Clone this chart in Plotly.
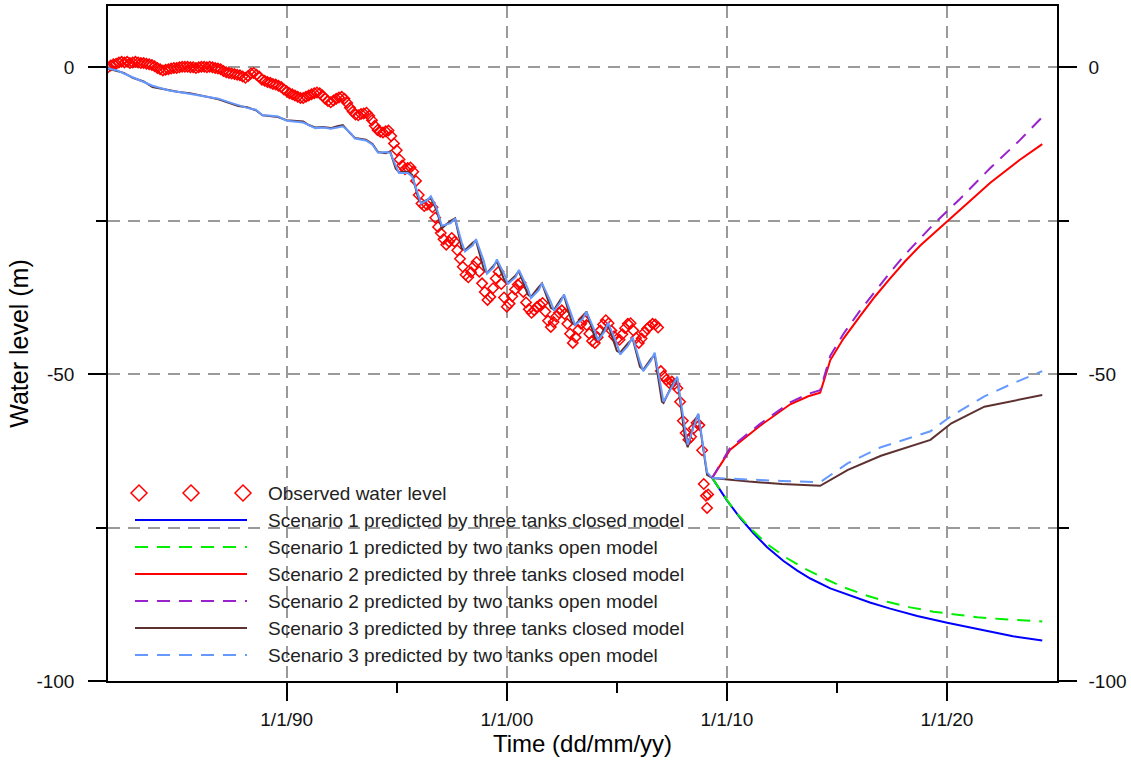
import plotly.graph_objects as go

# ---- observed groundwater level (decimal year, m) ----
obs_year = [
    1981.875,
    1982.0, 1982.125, 1982.25, 1982.375, 1982.5, 1982.625, 1982.75, 1982.875,
    1983.0, 1983.125, 1983.25, 1983.375, 1983.5, 1983.625, 1983.75, 1983.875,
    1984.0, 1984.125, 1984.25, 1984.375, 1984.5, 1984.625, 1984.75, 1984.875,
    1985.0, 1985.125, 1985.25, 1985.375, 1985.5, 1985.625, 1985.75, 1985.875,
    1986.0, 1986.125, 1986.25, 1986.375, 1986.5, 1986.625, 1986.75, 1986.875,
    1987.0, 1987.125, 1987.25, 1987.375, 1987.5, 1987.625, 1987.75, 1987.875,
    1988.0, 1988.125, 1988.25, 1988.375, 1988.5, 1988.625, 1988.75, 1988.875,
    1989.0, 1989.125, 1989.25, 1989.375, 1989.5, 1989.625, 1989.75, 1989.875,
    1990.0, 1990.125, 1990.25, 1990.375, 1990.5, 1990.625, 1990.75, 1990.875,
    1991.0, 1991.125, 1991.25, 1991.375, 1991.5, 1991.625, 1991.75, 1991.875,
    1992.0, 1992.125, 1992.25, 1992.375, 1992.5, 1992.625, 1992.75, 1992.875,
    1993.0, 1993.125, 1993.25, 1993.375, 1993.5, 1993.625, 1993.75, 1993.875,
    1994.0, 1994.125, 1994.25, 1994.375, 1994.5, 1994.625, 1994.75, 1994.875,
    1995.0, 1995.125, 1995.25, 1995.375, 1995.5, 1995.625, 1995.75, 1995.875,
    1996.0, 1996.125, 1996.25, 1996.375, 1996.5, 1996.625, 1996.75, 1996.875,
    1997.0, 1997.125, 1997.25, 1997.375, 1997.5, 1997.625, 1997.75, 1997.875,
    1998.0, 1998.125, 1998.25, 1998.375, 1998.5, 1998.625, 1998.75, 1998.875,
    1999.0, 1999.125, 1999.25, 1999.375, 1999.5, 1999.625, 1999.75, 1999.875,
    2000.0, 2000.125, 2000.25, 2000.375, 2000.5, 2000.625, 2000.75, 2000.875,
    2001.0, 2001.125, 2001.25, 2001.375, 2001.5, 2001.625, 2001.75, 2001.875,
    2002.0, 2002.125, 2002.25, 2002.375, 2002.5, 2002.625, 2002.75, 2002.875,
    2003.0, 2003.125, 2003.25, 2003.375, 2003.5, 2003.625, 2003.75, 2003.875,
    2004.0, 2004.125, 2004.25, 2004.375, 2004.5, 2004.625, 2004.75, 2004.875,
    2005.0, 2005.125, 2005.25, 2005.375, 2005.5, 2005.625, 2005.75, 2005.875,
    2006.0, 2006.125, 2006.25, 2006.375, 2006.5, 2006.625, 2006.75, 2006.875,
    2007.0, 2007.125, 2007.25, 2007.375, 2007.5, 2007.625, 2007.75, 2007.875,
    2008.0, 2008.125, 2008.25, 2008.375, 2008.5, 2008.625, 2008.75, 2008.875,
    2008.95, 2009.05, 2009.1, 2009.15,
]
obs_level = [
    0.0,
    0.3, 0.5, 0.6, 0.8, 0.9, 0.8, 0.9, 0.7,
    0.8, 0.9, 0.8, 0.7, 0.7, 0.6, 0.5, 0.4,
    0.2, -0.1, -0.3, -0.5, -0.4, -0.3, -0.2, -0.1,
    -0.1, 0.0, 0.1, 0.1, 0.1, 0.0, 0.0, -0.1,
    0.0, 0.1, 0.1, 0.0, 0.1, 0.0, -0.1, -0.2,
    -0.3, -0.6, -0.8, -0.9, -1.0, -1.1, -1.2, -1.3,
    -1.5, -1.7, -1.4, -1.0, -0.9, -1.2, -1.5, -2.0,
    -2.2, -2.4, -2.5, -2.7, -2.8, -3.0, -3.2, -3.6,
    -3.9, -4.2, -4.4, -4.6, -4.8, -5.0, -5.0, -4.8,
    -4.6, -4.4, -4.2, -4.1, -4.2, -4.6, -5.1, -5.5,
    -5.7, -5.4, -5.1, -4.9, -4.8, -5.1, -5.8, -6.6,
    -7.2, -7.7, -7.8, -7.6, -7.5, -7.4, -7.9, -8.6,
    -9.5, -10.2, -10.5, -10.6, -10.4, -10.3, -11.2, -12.4,
    -13.5, -15.0, -16.0, -16.6, -16.4, -16.3, -17.0, -18.5,
    -20.8, -22.2, -22.6, -22.4, -22.1, -22.8, -24.5, -26.0,
    -27.0, -28.0, -28.9, -28.4, -27.8, -28.4, -29.8, -31.2,
    -32.5, -33.8, -34.2, -33.4, -32.4, -31.7, -33.3, -35.2,
    -36.6, -37.9, -37.4, -36.0, -34.4, -33.3, -35.3, -37.5,
    -39.0, -38.5, -37.3, -36.2, -35.4, -35.1, -36.6, -38.3,
    -39.4, -40.0, -39.6, -39.0, -38.7, -38.4, -39.8, -41.3,
    -42.3, -41.5, -40.6, -40.0, -39.6, -40.2, -41.8, -43.4,
    -44.9, -44.0, -42.8, -41.8, -41.1, -42.0, -43.4, -44.6,
    -44.9, -44.0, -42.9, -41.9, -41.2, -41.7, -42.9, -43.8,
    -44.3, -44.4, -43.5, -42.5, -41.8, -41.7, -42.9, -44.1,
    -44.9, -44.2, -43.2, -42.6, -42.2, -41.8, -41.9, -42.4,
    -49.5, -50.3, -50.9, -51.4, -51.2, -51.6, -52.3, -54.5,
    -57.6, -59.6, -60.7, -60.2, -58.8, -57.9, -58.3, -62.4,
    -67.9, -69.8, -71.8, -69.6,
]

# ---- simulated history (calibration period) ----
hist_year = [
    1981.88, 1982.3, 1982.6, 1983.0, 1983.5, 1983.9, 1984.3, 1984.7, 1985.1,
    1985.6, 1986.0, 1986.5, 1986.9, 1987.4, 1987.8, 1988.2, 1988.6, 1988.9,
    1989.3, 1989.6, 1990.0, 1990.4, 1990.75, 1991.0, 1991.3, 1991.65, 1992.0,
    1992.3, 1992.55, 1992.9, 1993.1, 1993.6, 1993.9, 1994.15, 1994.5, 1994.7,
    1994.95, 1995.1, 1995.5, 1995.7, 1995.95, 1996.1, 1996.4, 1996.55, 1996.8,
    1997.05, 1997.45, 1997.65, 1997.95, 1998.1, 1998.45, 1998.6, 1998.95,
    1999.1, 1999.4, 1999.55, 1999.9, 2000.05, 2000.4, 2000.55, 2000.95,
    2001.1, 2001.45, 2001.6, 2002.0, 2002.15, 2002.45, 2002.6, 2002.95,
    2003.1, 2003.45, 2003.62, 2004.0, 2004.15, 2004.45, 2004.6, 2005.0,
    2005.15, 2005.5, 2005.72, 2006.05, 2006.2, 2006.55, 2006.72, 2007.05,
    2007.12, 2007.55, 2007.74, 2008.1, 2008.22, 2008.55, 2008.7, 2009.1,
    2009.33,
]
hist_closed = [
    -0.2, -0.6, -0.9, -1.7, -2.3, -3.2, -3.5, -3.7, -4.0,
    -4.2, -4.5, -4.8, -5.2, -5.8, -6.3, -6.5, -7.0, -7.8,
    -8.0, -8.1, -8.6, -8.7, -8.8, -9.4, -9.8, -9.7, -9.9,
    -9.6, -9.4, -10.8, -11.5, -11.8, -12.5, -13.8, -14.0, -13.7,
    -16.5, -17.1, -17.0, -17.5, -21.0, -22.1, -21.5, -21.3, -23.2,
    -26.2, -25.0, -24.6, -29.5, -29.8, -28.6, -28.2, -32.8,
    -33.5, -32.3, -31.6, -34.8, -35.1, -33.9, -33.2, -37.0,
    -37.4, -35.8, -35.2, -39.2, -39.5, -37.8, -37.2, -41.5,
    -42.0, -40.6, -39.8, -44.0, -44.4, -42.5, -41.9, -46.2,
    -46.5, -45.0, -44.2, -48.8, -49.3, -47.5, -46.9, -54.5,
    -54.7, -51.5, -50.6, -60.5, -61.9, -57.5, -56.6, -66.4,
    -66.9,
]
hist_open = [
    -0.2, -0.5, -1.0, -1.6, -2.3, -3.0, -3.4, -3.8, -4.0,
    -4.3, -4.5, -4.9, -5.1, -5.7, -6.2, -6.6, -6.9, -7.8,
    -7.9, -8.0, -8.7, -8.9, -9.0, -9.4, -9.9, -9.8, -10.0,
    -9.8, -9.6, -10.7, -11.6, -11.9, -12.6, -13.9, -13.8, -13.9,
    -16.0, -17.2, -17.2, -17.8, -20.5, -22.2, -21.6, -21.0, -22.8,
    -25.8, -25.4, -24.6, -28.5, -30.0, -29.0, -28.0, -31.5,
    -33.6, -32.6, -31.3, -33.8, -35.3, -34.2, -33.0, -36.0,
    -37.6, -36.3, -35.2, -38.2, -39.7, -38.2, -37.0, -40.4,
    -42.0, -41.0, -39.8, -43.0, -44.5, -43.0, -41.6, -45.0,
    -46.8, -45.4, -44.0, -48.0, -49.5, -47.8, -46.5, -53.0,
    -54.5, -51.8, -50.4, -59.0, -61.5, -58.0, -56.4, -66.0,
    -66.9,
]

# ---- predictions ----
s1_year = [2009.33, 2010.01, 2010.6, 2011.2, 2011.83, 2012.56, 2013.2, 2013.79, 2014.7,
           2015.6, 2016.5, 2017.42, 2018.65, 2020.01, 2020.92, 2021.83, 2023.0, 2024.33]
s1_closed = [-66.9, -70.6, -73.4, -75.9, -78.2, -80.4, -82.0, -83.3, -84.9,
             -86.1, -87.2, -88.2, -89.4, -90.5, -91.2, -91.9, -92.7, -93.4]
s1o_year = [2009.33, 2010.29, 2011.06, 2011.83, 2012.74, 2013.65, 2014.56, 2015.29, 2016.38,
            2017.29, 2018.33, 2019.38, 2020.47, 2021.38, 2022.42, 2023.92, 2024.33]
s1_open = [-66.9, -72.0, -75.1, -77.7, -80.0, -81.9, -83.5, -84.7, -86.1,
           -87.1, -88.0, -88.7, -89.2, -89.6, -89.9, -90.2, -90.3]

s2_year = [2009.33, 2010.15, 2011.51, 2012.88, 2013.7, 2014.24, 2014.7, 2015.3, 2016.06,
           2016.74, 2017.42, 2018.1, 2018.8, 2019.33, 2020.6, 2021.97, 2023.3, 2024.33]
s2_closed = [-66.9, -62.3, -58.4, -54.9, -53.6, -53.0, -47.7, -44.2, -40.5,
             -37.3, -34.4, -31.6, -29.0, -27.3, -23.2, -18.8, -15.1, -12.5]
s2_open = [-66.9, -62.0, -58.1, -54.6, -53.2, -52.6, -47.0, -43.4, -39.6,
           -36.4, -33.4, -30.5, -27.8, -25.8, -21.4, -16.4, -11.9, -8.1]

s3_year = [2009.33, 2011.0, 2012.5, 2014.24, 2015.5, 2017.0, 2019.25, 2020.2, 2021.7, 2023.0, 2024.33]
s3_closed = [-66.9, -67.5, -67.9, -68.2, -65.6, -63.3, -60.7, -58.0, -55.3, -54.3, -53.4]
s3_open = [-66.9, -67.2, -67.4, -67.6, -64.5, -61.9, -59.3, -56.8, -53.6, -51.5, -49.5]

x_ticks = [1990, 2000, 2010, 2020]
x_tick_text = ["1/1/90", "1/1/00", "1/1/10", "1/1/20"]
x_minor = [1995, 2005, 2015]
y_ticks = [0, -50, -100]
y_tick_text = ["0", "-50", "-100"]
y_minor = [-25, -75]

legend_labels = [
    "Observed water level",
    "Scenario 1 predicted by three tanks closed model",
    "Scenario 1 predicted by two tanks open model",
    "Scenario 2 predicted by three tanks closed model",
    "Scenario 2 predicted by two tanks open model",
    "Scenario 3 predicted by three tanks closed model",
    "Scenario 3 predicted by two tanks open model",
]

BLUE, GREEN, RED, PURPLE, BROWN, LBLUE = "#0000FF", "#00EE00", "#FF0000", "#9922CC", "#5E3131", "#6699FF"
DASH = "13px,9px"
FONT = "Liberation Sans, Arial, sans-serif"

fig = go.Figure()

fig.add_trace(go.Scatter(x=obs_year, y=obs_level, mode="markers", showlegend=False,
                         marker=dict(symbol="diamond-open", size=8, color=RED,
                                     line=dict(width=1.5, color=RED))))
fig.add_trace(go.Scatter(x=hist_year, y=hist_closed, mode="lines", showlegend=False,
                         line=dict(color=BROWN, width=2)))
fig.add_trace(go.Scatter(x=hist_year, y=hist_open, mode="lines", showlegend=False,
                         line=dict(color=LBLUE, width=2)))

series = [
    (s1_year, s1_closed, BLUE, "solid"),
    (s1o_year, s1_open, GREEN, DASH),
    (s2_year, s2_closed, RED, "solid"),
    (s2_year, s2_open, PURPLE, DASH),
    (s3_year, s3_closed, BROWN, "solid"),
    (s3_year, s3_open, LBLUE, DASH),
]
for xs, ys, col, dash in series:
    fig.add_trace(go.Scatter(x=xs, y=ys, mode="lines", showlegend=False,
                             line=dict(color=col, width=2, dash=dash)))

# right-hand axis carries the same scale
fig.add_trace(go.Scatter(x=[2000], y=[-50], yaxis="y2", mode="markers",
                         marker=dict(opacity=0), showlegend=False, hoverinfo="skip"))

# plot-area frame in pixels
PL, PR, PT, PB = 108, 1057, 6, 681


def fx(px):
    return (px - PL) / (PR - PL)


def fy(py):
    return (PB - py) / (PB - PT)


shapes = []
annotations = []
row_y = [493 + 27 * i for i in range(7)]
# observed symbol row: three diamonds
for cx in (139, 191, 243):
    cy = row_y[0]
    h = 8
    path = (f"M {fx(cx - h)},{fy(cy)} L {fx(cx)},{fy(cy - h)} L {fx(cx + h)},{fy(cy)} "
            f"L {fx(cx)},{fy(cy + h)} Z")
    shapes.append(dict(type="path", path=path, xref="paper", yref="paper",
                       line=dict(color=RED, width=1.5)))
for i, (_, _, col, dash) in enumerate(series):
    cy = row_y[i + 1]
    shapes.append(dict(type="line", xref="paper", yref="paper",
                       x0=fx(135), x1=fx(247), y0=fy(cy), y1=fy(cy),
                       line=dict(color=col, width=2, dash=dash)))
for i, lab in enumerate(legend_labels):
    annotations.append(dict(text=lab, xref="paper", yref="paper", x=fx(266), y=fy(row_y[i]),
                            xanchor="left", yanchor="middle", showarrow=False,
                            font=dict(family=FONT, size=19, color="#222222")))

GRID_COLOR, GRID_DASH, GRID_W = "#9a9a9a", "12px,8px", 1.5
tick_style = dict(ticks="outside", ticklen=18, tickwidth=1.5, tickcolor="#000")
minor_style = dict(tickmode="array", ticks="outside", ticklen=10, tickwidth=1.5, tickcolor="#000")

fig.update_layout(
    width=1131, height=764,
    margin=dict(l=PL, r=1131 - PR, t=PT, b=764 - PB),
    paper_bgcolor="white", plot_bgcolor="white",
    font=dict(family=FONT, size=19, color="#111111"),
    shapes=shapes, annotations=annotations,
    xaxis=dict(
        range=[1981.88, 2025.0], tickmode="array", tickvals=x_ticks, ticktext=x_tick_text,
        **tick_style, automargin=False,
        showline=True, linecolor="#000", linewidth=1.5, mirror=True,
        showgrid=True, gridcolor=GRID_COLOR, griddash=GRID_DASH, gridwidth=GRID_W,
        zeroline=False, ticklabelstandoff=2,
        minor=dict(tickvals=x_minor, showgrid=False, **minor_style),
        title=dict(text="Time (dd/mm/yy)", font=dict(size=24, color="#000"), standoff=6),
    ),
    yaxis=dict(
        range=[-100, 10], tickmode="array", tickvals=y_ticks, ticktext=y_tick_text,
        **tick_style, automargin=False,
        showline=True, linecolor="#000", linewidth=1.5,
        showgrid=True, gridcolor=GRID_COLOR, griddash=GRID_DASH, gridwidth=GRID_W,
        zeroline=False, ticklabelstandoff=10,
        minor=dict(tickvals=y_minor, showgrid=True, gridcolor=GRID_COLOR,
                   griddash=GRID_DASH, gridwidth=GRID_W, **minor_style),
        title=dict(text="Water level (m)", font=dict(size=25, color="#000"), standoff=1),
    ),
    yaxis2=dict(
        overlaying="y", side="right", range=[-100, 10], tickmode="array",
        tickvals=y_ticks, ticktext=y_tick_text, **tick_style, automargin=False,
        showline=True, linecolor="#000", linewidth=1.5, showgrid=False, zeroline=False,
        ticklabelstandoff=8,
        minor=dict(tickvals=y_minor, showgrid=False, **minor_style),
    ),
)

fig.write_html("out.html")
